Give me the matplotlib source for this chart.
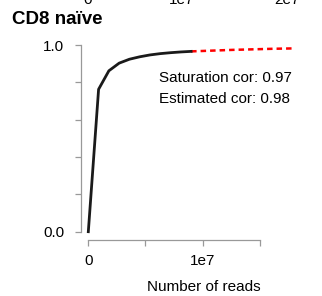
import matplotlib
matplotlib.use("Agg")
import matplotlib.pyplot as plt

plt.rcParams['font.family'] = ['Liberation Sans', 'DejaVu Sans']

# observed saturation curve (subsampled reads)
reads = [0, 0.9e6, 1.8e6, 2.7e6, 3.6e6, 4.5e6, 5.4e6, 6.3e6, 7.2e6, 8.1e6, 9.0e6]
cor = [0.0, 0.763, 0.862, 0.903, 0.924, 0.937, 0.947, 0.954, 0.959, 0.963, 0.966]

# extrapolated part
ext_reads = [9.0e6, 10.8e6, 12.6e6, 14.4e6, 16.2e6, 18.0e6]
ext_cor = [0.966, 0.970, 0.974, 0.977, 0.980, 0.982]

yticks = [0, 0.2, 0.4, 0.6, 0.8, 1.0]
ytick_labels = ["0.0", "", "", "", "", "1.0"]
xticks = [0, 5e6, 1e7, 1.5e7]
xtick_labels = ["0", "", "1e7", ""]

W, H = 322, 296
fig = plt.figure(figsize=(W / 100, H / 100), dpi=100)
# axes box in pixels: left 80.7, right 327, bottom 240, top 40
ax = fig.add_axes([80.7 / W, (H - 240) / H, (327 - 80.7) / W, 200 / H])

ax.plot(ext_reads, ext_cor, color='#ff0000', lw=1.8, ls=(0, (2.2, 1.6)))
ax.plot(reads, cor, color='#1a1a1a', lw=2.0)

ax.set_xlim(-0.667e6, 20.9e6)
ax.set_ylim(-0.0445, 1.027)

for s in ['top', 'right']:
    ax.spines[s].set_visible(False)
ax.spines['left'].set_bounds(0, 1)
ax.spines['bottom'].set_bounds(0, 1.5e7)
for s in ['left', 'bottom']:
    ax.spines[s].set_color('#999999')
    ax.spines[s].set_linewidth(0.9)

ax.set_yticks(yticks)
ax.set_yticklabels(ytick_labels)
ax.set_xticks(xticks)
ax.set_xticklabels(xtick_labels)
ax.tick_params(axis='both', colors='#999999', length=4, width=0.9,
               labelcolor='black', labelsize=11)
ax.tick_params(axis='y', pad=8)
ax.tick_params(axis='x', pad=6)

ax.set_xlabel("Number of reads", fontsize=11, va='center')
ax.xaxis.set_label_coords((204 - 80.7) / (327 - 80.7), -(287 - 240) / 200)

ax.text((159 - 80.7) / (327 - 80.7), (240 - 77.7) / 200, "Saturation cor: 0.97",
        transform=ax.transAxes, fontsize=11, va='center', ha='left')
ax.text((159 - 80.7) / (327 - 80.7), (240 - 99.3) / 200, "Estimated cor: 0.98",
        transform=ax.transAxes, fontsize=11, va='center', ha='left')

fig.text(12 / W, 1 - 20 / H, "CD8 naïve", fontsize=13.5, fontweight='bold',
         va='center', ha='left')

# tick labels of the panel above, cut off by the crop
for x, lab in [(88, "0"), (182, "1e7"), (287, "2e7")]:
    fig.text(x / W, 1 - 0.5 / H, lab, fontsize=11, ha='center', va='center')

fig.savefig("out.png", dpi=100)
